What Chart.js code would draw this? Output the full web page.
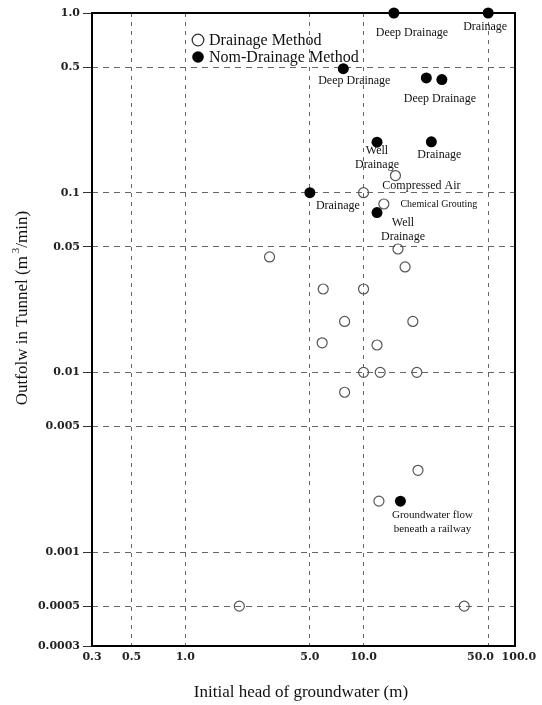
<!DOCTYPE html>
<html>
<head>
<meta charset="utf-8">
<script src="https://cdn.jsdelivr.net/npm/chart.js@4"></script>
<style>
  html, body { margin: 0; padding: 0; background: #fff; }
  canvas { display: block; }
</style>
</head>
<body>
<canvas id="chart" width="542" height="705"></canvas>
<script>
// Initial head of groundwater (m) against outflow in the tunnel (m3/min)
const drainageHead = [15.1, 10.0, 13.0, 2.97, 15.6, 17.1, 5.94, 10.0, 7.83, 18.9, 5.86, 11.9, 10.0, 12.4, 19.9, 7.83, 20.2, 12.2, 2.01, 36.7];
const drainageFlow = [0.1245, 0.1, 0.0865, 0.0439, 0.0486, 0.0386, 0.0291, 0.0291, 0.0192, 0.0192, 0.0146, 0.0142, 0.01, 0.01, 0.01, 0.00775, 0.00285, 0.00192, 0.0005, 0.0005];
const nonDrainageHead = [14.8, 50.0, 7.7, 22.5, 27.5, 11.9, 24.0, 5.0, 11.9, 16.1];
const nonDrainageFlow = [1.0, 1.0, 0.49, 0.435, 0.426, 0.191, 0.192, 0.1, 0.0775, 0.00192];
const seriesNames = ['Drainage Method', 'Nom-Drainage Method'];

const xTickValues = [0.3, 0.5, 1, 5, 10, 50, 70.7];
const xTickLabels = ['0.3', '0.5', '1.0', '5.0', '10.0', '50.0', '100.0'];
const yTickValues = [1, 0.5, 0.1, 0.05, 0.01, 0.005, 0.001, 0.0005, 0.0003];
const yTickLabels = ['1.0', '0.5', '0.1', '0.05', '0.01', '0.005', '0.001', '0.0005', '0.0003'];

const xTitle = 'Initial head of groundwater (m)';
const yTitle = ['Outfolw in Tunnel (m', '3', '/min)'];

// Method notes: [point index, lines]
const drainageNotes = [[0, ['Compressed Air']], [2, ['Chemical Grouting']]];
const nonDrainageNotes = [
  [0, ['Deep Drainage']], [1, ['Drainage']], [2, ['Deep Drainage']], [4, ['Deep Drainage']],
  [5, ['Well', 'Drainage']], [6, ['Drainage']], [7, ['Drainage']], [8, ['Well', 'Drainage']],
  [9, ['Groundwater flow', 'beneath a railway']]
];

const SERIF = '"Liberation Serif", "Times New Roman", serif';
const TICKFONT = '"DejaVu Serif", serif';

// Placement of each note relative to its point: dx, dy, line gap, font size
const drainageNoteStyle = [[26, 10, 0, 12], [55, 0, 0, 10]];
const nonDrainageNoteStyle = [
  [18, 20, 0, 12], [-3, 14, 0, 12], [11, 12, 0, 12], [-2, 19, 0, 12],
  [0, 9, 14, 12], [8, 13, 0, 12], [28, 13, 0, 12], [26, 10, 14.5, 12],
  [32, 14, 14, 11]
];

const toPoints = (xs, ys) => xs.map((x, i) => ({ x: x, y: ys[i] }));

// The last two x labels sit close together; nudge them apart
const xLabelNudge = ['', '', '', '', '', '\u00a0\u00a0\u00a0\u00a0', ''];
const xLabelLead = ['', '', '', '', '', '', '\u00a0\u00a0'];

const framePlugin = {
  id: 'frame',
  beforeDatasetsDraw(chart) {
    const { ctx, chartArea: a } = chart;
    ctx.save();
    ctx.strokeStyle = '#000';
    ctx.lineWidth = 2;
    ctx.strokeRect(a.left, a.top, a.right - a.left, a.bottom - a.top);
    ctx.restore();
  }
};

const notesPlugin = {
  id: 'notes',
  afterDatasetsDraw(chart) {
    const ctx = chart.ctx;
    const xs = chart.scales.x, ys = chart.scales.y;
    const drawSet = (heads, flows, notes, styles) => {
      notes.forEach((n, k) => {
        const [idx, lines] = n;
        const [dx, dy, gap, size] = styles[k];
        const px = xs.getPixelForValue(heads[idx]);
        const py = ys.getPixelForValue(flows[idx]);
        ctx.save();
        ctx.fillStyle = '#111';
        ctx.font = size + 'px ' + SERIF;
        ctx.textAlign = 'center';
        ctx.textBaseline = 'middle';
        lines.forEach((t, j) => {
          ctx.fillText(t, px + dx, py + dy + j * gap);
        });
        ctx.restore();
      });
    };
    drawSet(drainageHead, drainageFlow, drainageNotes, drainageNoteStyle);
    drawSet(nonDrainageHead, nonDrainageFlow, nonDrainageNotes, nonDrainageNoteStyle);
  }
};

const legendPlugin = {
  id: 'insideLegend',
  afterDraw(chart) {
    const ctx = chart.ctx;
    const ds = chart.data.datasets;
    ctx.save();
    ctx.font = '16px ' + SERIF;
    ctx.textBaseline = 'middle';
    ctx.fillStyle = '#111';
    ds.forEach((d, i) => {
      const y = 40 + i * 17;
      ctx.beginPath();
      ctx.arc(198, y, 5.8, 0, Math.PI * 2);
      if (d.pointBackgroundColor !== 'rgba(0,0,0,0)') {
        ctx.fillStyle = d.pointBackgroundColor;
        ctx.fill();
      } else {
        ctx.fillStyle = '#fff';
        ctx.fill();
        ctx.lineWidth = 1.3;
        ctx.strokeStyle = '#333';
        ctx.stroke();
      }
      ctx.fillStyle = '#111';
      ctx.fillText(d.label, 209, y + 1);
    });
    ctx.restore();
  }
};

const titlesPlugin = {
  id: 'axisTitles',
  afterDraw(chart) {
    const ctx = chart.ctx;
    ctx.save();
    ctx.fillStyle = '#111';
    ctx.textBaseline = 'middle';
    ctx.font = '17px ' + SERIF;
    ctx.textAlign = 'center';
    ctx.fillText(xTitle, 301, 693);

    // rotated y title with superscript
    ctx.translate(23, 308);
    ctx.rotate(-Math.PI / 2);
    const big = '17px ' + SERIF, small = '11px ' + SERIF;
    ctx.font = big;
    const w0 = ctx.measureText(yTitle[0]).width;
    const w2 = ctx.measureText(yTitle[2]).width;
    ctx.font = small;
    const w1 = ctx.measureText(yTitle[1]).width + 3;
    let x = -(w0 + w1 + w2) / 2;
    ctx.textAlign = 'left';
    ctx.font = big;
    ctx.fillText(yTitle[0], x, 0);
    x += w0 + 3;
    ctx.font = small;
    ctx.fillText(yTitle[1], x, -7);
    x += w1 - 3;
    ctx.font = big;
    ctx.fillText(yTitle[2], x, 0);
    ctx.restore();
  }
};

new Chart(document.getElementById('chart'), {
  type: 'scatter',
  data: {
    datasets: [
      {
        label: seriesNames[0],
        data: toPoints(drainageHead, drainageFlow),
        pointRadius: 5,
        pointHoverRadius: 5,
        pointBorderWidth: 1.2,
        pointBorderColor: '#555',
        pointBackgroundColor: 'rgba(0,0,0,0)',
        clip: false,
        order: 2
      },
      {
        label: seriesNames[1],
        data: toPoints(nonDrainageHead, nonDrainageFlow),
        pointRadius: 5.5,
        pointHoverRadius: 5.5,
        pointBorderWidth: 0,
        pointBorderColor: '#000',
        pointBackgroundColor: '#000',
        clip: false,
        order: 1
      }
    ]
  },
  options: {
    responsive: false,
    animation: false,
    events: [],
    layout: { padding: { top: 13, right: 27, left: 0, bottom: 0 } },
    plugins: {
      legend: { display: false },
      tooltip: { enabled: false }
    },
    scales: {
      x: {
        type: 'logarithmic',
        min: xTickValues[0],
        max: xTickValues[xTickValues.length - 1],
        afterFit(s) { s.height = 59; },
        afterBuildTicks(s) { s.ticks = xTickValues.map(v => ({ value: v })); },
        ticks: {
          callback: (v, i) => xLabelLead[i] + xTickLabels[i] + xLabelNudge[i],
          font: { family: TICKFONT, size: 11, weight: 'bold' },
          color: '#222',
          padding: 5,
          autoSkip: false,
          maxRotation: 0
        },
        grid: { color: '#666', lineWidth: 1, drawTicks: false },
        border: { display: false, dash: [4, 5] },
        title: { display: false }
      },
      y: {
        type: 'logarithmic',
        min: yTickValues[yTickValues.length - 1],
        max: yTickValues[0],
        afterFit(s) { s.width = 92; },
        afterBuildTicks(s) { s.ticks = yTickValues.map(v => ({ value: v })); },
        ticks: {
          callback: (v, i) => yTickLabels[i],
          font: { family: TICKFONT, size: 11, weight: 'bold' },
          color: '#222',
          padding: 3,
          autoSkip: false
        },
        grid: { color: '#666', lineWidth: 1, drawTicks: true, tickLength: 9, tickColor: '#333', tickBorderDash: [] },
        border: { display: false, dash: [6, 5] },
        title: { display: false }
      }
    }
  },
  plugins: [framePlugin, notesPlugin, legendPlugin, titlesPlugin]
});
</script>
</body>
</html>
